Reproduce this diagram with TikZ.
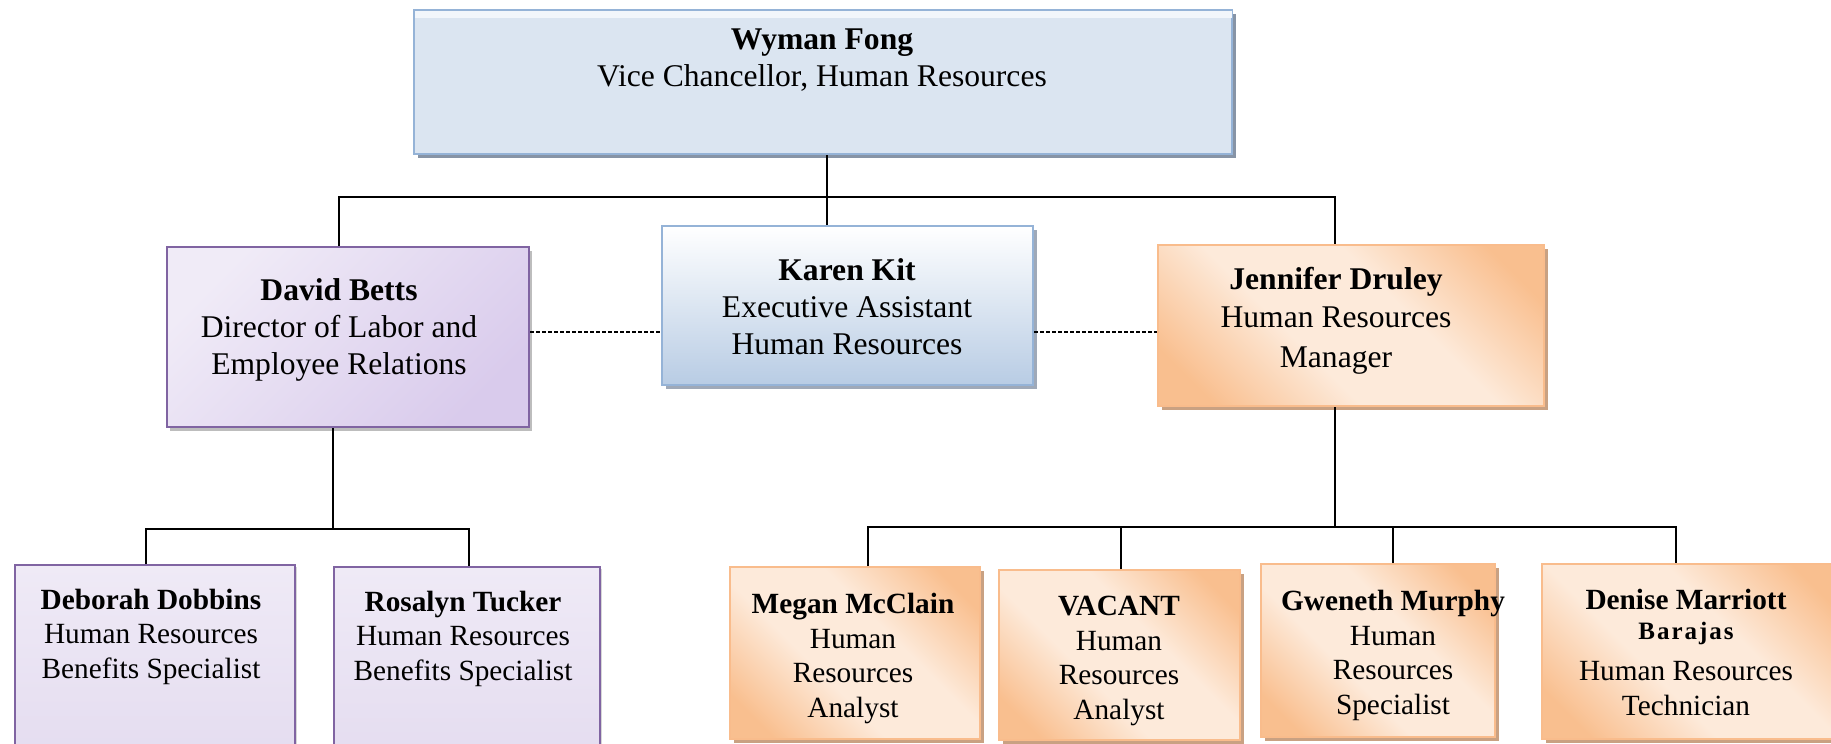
\documentclass[tikz,border=0pt]{standalone}
\usepackage{fontspec}
\setmainfont{Liberation Serif}
\usetikzlibrary{shadows}
\definecolor{wyFill}{HTML}{DBE5F1}
\definecolor{wyBand}{HTML}{F2F6FB}
\definecolor{bordBlue}{HTML}{95B3D7}
\definecolor{shBlue}{HTML}{8794A6}
\definecolor{kkBot}{HTML}{B8CCE4}
\definecolor{dbLight}{HTML}{F0EBF7}
\definecolor{dbDark}{HTML}{D9CBEC}
\definecolor{purpBorder}{HTML}{8064A2}
\definecolor{shGrey}{HTML}{BDBDBD}
\definecolor{lowTop}{HTML}{EFEAF6}
\definecolor{lowBot}{HTML}{E4DCF0}
\definecolor{orLight}{HTML}{FDEADA}
\definecolor{orDark}{HTML}{F9BF8F}
\definecolor{orBorder}{HTML}{F9BC8C}
\definecolor{orShadow}{HTML}{C9A182}
\pgfdeclareverticalshading{peach}{100bp}{color(0bp)=(orDark); color(22bp)=(orDark); color(41bp)=(orLight); color(59bp)=(orLight); color(78bp)=(orDark); color(100bp)=(orDark)}
\newcommand\bigtxt{\fontsize{31.6}{37}\selectfont}
\newcommand\smalltxt{\fontsize{29.3}{34.5}\selectfont}
\tikzset{
  box/.style={rectangle, inner sep=0pt, anchor=north west, line width=2pt},
  wybox/.style={box, draw=bordBlue, fill=wyFill,
    general shadow={fill=shBlue, shadow xshift=4pt, shadow yshift=-4pt}},
  kkbox/.style={box, draw=bordBlue, top color=white, bottom color=kkBot,
    general shadow={fill=shBlue!80!white, shadow xshift=4pt, shadow yshift=-4pt}},
  dbbox/.style={box, draw=purpBorder, top color=dbLight, bottom color=dbDark, shading angle=45,
    general shadow={fill=shGrey, shadow xshift=3pt, shadow yshift=-4pt}},
  lowbox/.style={box, draw=purpBorder, top color=lowTop, bottom color=lowBot,
    general shadow={fill=shGrey!60!white, shadow xshift=2pt, shadow yshift=-2pt}},
  orbox/.style={box, draw=orBorder, shading=peach, shading angle=-45,
    general shadow={fill=orShadow, shadow xshift=4pt, shadow yshift=-4pt}},
  txt/.style={align=center, inner sep=0pt, anchor=center},
  bigt/.style={txt, font=\bigtxt},
  smallt/.style={txt, font=\smalltxt},
  conn/.style={line width=1.8pt, black},
  dconn/.style={line width=1.2pt, black, dash pattern=on 4pt off 2pt}
}
\begin{document}
\begin{tikzpicture}[x=1pt,y=-1pt]
\useasboundingbox (0,0) rectangle (1831,744);
\clip (0,0) rectangle (1831,744);

% boxes
\node[wybox, minimum width=818pt, minimum height=144pt] (wy) at (413,9) {};
\fill[wyBand] ([xshift=1.5pt,yshift=-1.5pt]wy.north west) rectangle ([xshift=-1.5pt,yshift=-9pt]wy.north east);
\node[kkbox, minimum width=371pt, minimum height=159pt] (kk) at (661,225) {};
\node[dbbox, minimum width=362pt, minimum height=180pt] (db) at (166,246) {};
\node[orbox, minimum width=386pt, minimum height=161pt] (jd) at (1157,244) {};
\node[lowbox, minimum width=280pt, minimum height=200pt] (dd) at (14,564) {};
\node[lowbox, minimum width=266pt, minimum height=200pt] (rt) at (333,566) {};
\node[orbox, minimum width=250pt, minimum height=172pt] (mm) at (729,566) {};
\node[orbox, minimum width=241pt, minimum height=170pt] (va) at (998,569) {};
\node[orbox, minimum width=234pt, minimum height=173pt] (gm) at (1260,563) {};
\node[orbox, minimum width=300pt, minimum height=175pt] (dm) at (1541,563) {};

% texts
\node[bigt] (wyt) at (822,60.5) {\textbf{Wyman Fong}\\Vice Chancellor, Human Resources};
\node[bigt] (kkt) at (847,306.5) {\textbf{Karen Kit}\\Executive Assistant\\Human Resources};
\node[bigt] (dbt) at (339,329.5) {\textbf{David Betts}\\Director of Labor and\\Employee Relations};
\node[bigt] (jdt) at (1336,321) {\textbf{Jennifer Druley}\\[1pt]Human Resources\\[2.5pt]Manager};
\node[smallt] (ddt) at (151,636.5) {\textbf{Deborah Dobbins}\\Human Resources\\Benefits Specialist};
\node[smallt] (rtt) at (463,638.5) {\textbf{Rosalyn Tucker}\\Human Resources\\Benefits Specialist};
\node[smallt] (mmt) at (853,658.5) {\textbf{Megan McClain}\\Human\\Resources\\Analyst};
\node[smallt] (vat) at (1119,661) {\textbf{VACANT}\\Human\\Resources\\Analyst};
\node[smallt] (gmt) at (1393,655.5) {\textbf{Gweneth Murphy}\\Human\\Resources\\Specialist};
\node[smallt] (dmt) at (1686,652) {\textbf{Denise Marriott}\\[-4.5pt]{\fontsize{25}{28}\selectfont\bfseries B\kern2pt a\kern2pt r\kern2pt a\kern2pt j\kern2pt a\kern2pt s}\\[7pt]Human Resources\\Technician};

% connector coordinates
\coordinate (busL) at (339,197);
\coordinate (busR) at (1335,197);
\coordinate (busM) at (827,197);
\coordinate (lbus) at (333,529);
\coordinate (lbusL) at (146,529);
\coordinate (lbusR) at (469,529);
\coordinate (rbus) at (1335,527);
\coordinate (rb1) at (868,527);
\coordinate (rb2) at (1121,527);
\coordinate (rb3) at (1393,527);
\coordinate (rb4) at (1676,527);

% top level
\draw[conn] (wy.south -| busM) -- (kk.north -| busM);
\draw[conn] (db.north -| busL) -- (busL) -- (busR) -- (jd.north -| busR);
% dashed
\draw[dconn] (db.east |- 0,332) -- (kk.west |- 0,332);
\draw[dconn] (kk.east |- 0,332) -- (jd.west |- 0,332);
% left subtree
\draw[conn] (db.south -| lbus) -- (lbus);
\draw[conn] (dd.north -| lbusL) -- (lbusL) -- (lbusR) -- (rt.north -| lbusR);
% right subtree
\draw[conn] (jd.south -| rbus) -- (rbus);
\draw[conn] (mm.north -| rb1) -- (rb1) -- (rb4) -- (dm.north -| rb4);
\draw[conn] (va.north -| rb2) -- (rb2);
\draw[conn] (gm.north -| rb3) -- (rb3);
\end{tikzpicture}
\end{document}
